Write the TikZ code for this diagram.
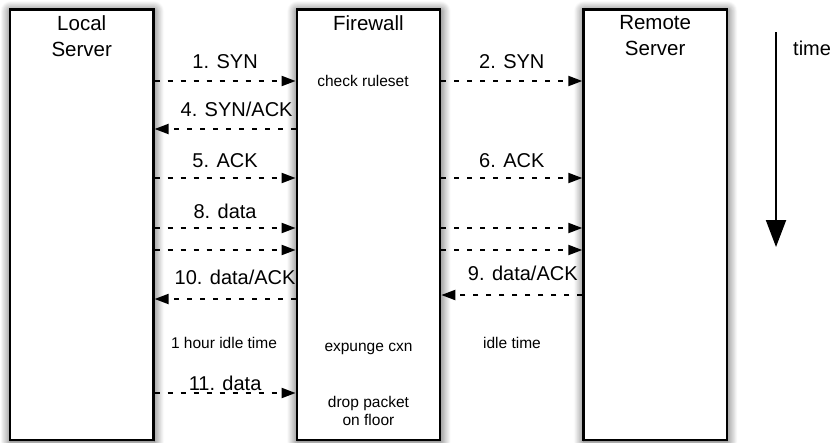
\documentclass[tikz,border=0pt]{standalone}
\usepackage{fontspec}
\setmainfont{Liberation Sans}
\usetikzlibrary{positioning,arrows.meta,shadows.blur}

\begin{document}
\begin{tikzpicture}[
		x=1pt, y=-1pt,
		host/.style={rectangle, draw, line width=2.2pt, fill=white,
			minimum width=143.5pt, minimum height=430.5pt,
			blur shadow={shadow xshift=0.5pt, shadow yshift=-1.5pt, shadow blur radius=10pt,
				shadow blur steps=12, shadow opacity=75}},
		title/.style={anchor=north, align=center, inner sep=0pt, font=\fontsize{20.5}{26}\selectfont},
		note/.style={anchor=base, align=center, inner sep=0pt, font=\fontsize{15.5}{18}\selectfont},
		msg/.style={line width=2pt, dash pattern=on 5pt off 8pt, -{Triangle[length=14pt,width=10pt]}},
		msglbl/.style={anchor=base, inner sep=0pt, font=\fontsize{20}{24}\selectfont}
	]
	\useasboundingbox (0,0) rectangle (834,442);
	% hosts
	\node[host] (local) at (81.75,224.75) {};
	\node[host, right=141pt of local] (fw) {};
	\node[host, right=141pt of fw] (remote) {};
	\node[title] (localname) at (local.center |- 0,15.5) {Local\\Server};
	\node[title] (fwname) at (fw.center |- 0,15.5) {Firewall};
	\node[title] (remotename) at (remote.center |- 0,15.5) {Remote\\Server};
	% rows
	\coordinate (syn) at (0,81);
	\coordinate (synack) at (0,129);
	\coordinate (ack) at (0,178);
	\coordinate (dataA) at (0,228);
	\coordinate (dataB) at (0,250);
	\coordinate (reply) at (0,295);
	\coordinate (replyfw) at (0,299);
	\coordinate (late) at (0,393);
	% messages
	\draw[msg] (local.east |- syn) -- node[msglbl, yshift=13pt] {1. SYN} (fw.west |- syn);
	\draw[msg] (fw.east |- syn) -- node[msglbl, yshift=13pt] {2. SYN} (remote.west |- syn);
	\draw[msg] (fw.west |- synack) -- node[msglbl, yshift=13pt, xshift=11.5pt] {4. SYN/ACK} (local.east |- synack);
	\draw[msg] (local.east |- ack) -- node[msglbl, yshift=11pt] {5. ACK} (fw.west |- ack);
	\draw[msg] (fw.east |- ack) -- node[msglbl, yshift=11pt] {6. ACK} (remote.west |- ack);
	\draw[msg] (local.east |- dataA) -- node[msglbl, yshift=10pt] {8. data} (fw.west |- dataA);
	\draw[msg] (local.east |- dataB) -- (fw.west |- dataB);
	\draw[msg] (fw.east |- dataA) -- (remote.west |- dataA);
	\draw[msg] (fw.east |- dataB) -- (remote.west |- dataB);
	\draw[msg] (remote.west |- reply) -- node[msglbl, yshift=15pt, xshift=11pt] {9. data/ACK} (fw.east |- reply);
	\draw[msg] (fw.west |- replyfw) -- node[msglbl, yshift=15pt, xshift=10pt] {10. data/ACK} (local.east |- replyfw);
	\draw[msg] (local.east |- late) -- node[msglbl, yshift=3pt] {11. data} (fw.west |- late);
	% notes
	\node[note] (ruleset) at (363,86) {check ruleset};
	\node[note] (idlelocal) at (224,348) {1 hour idle time};
	\node[note] (idleremote) at (512,348) {idle time};
	\node[note] (expunge) at (fw.center |- 0,351) {expunge cxn};
	\node[note, anchor=north] (drop) at (fw.center |- 0,396) {drop packet\\on floor};
	% time axis
	\coordinate (t0) at (776,32);
	\coordinate (t1) at (776,247);
	\draw[line width=2pt, -{Triangle[length=27pt,width=20pt]}] (t0) -- (t1);
	\node[msglbl, anchor=base west] (time) at (793,55) {time};
\end{tikzpicture}
\end{document}
